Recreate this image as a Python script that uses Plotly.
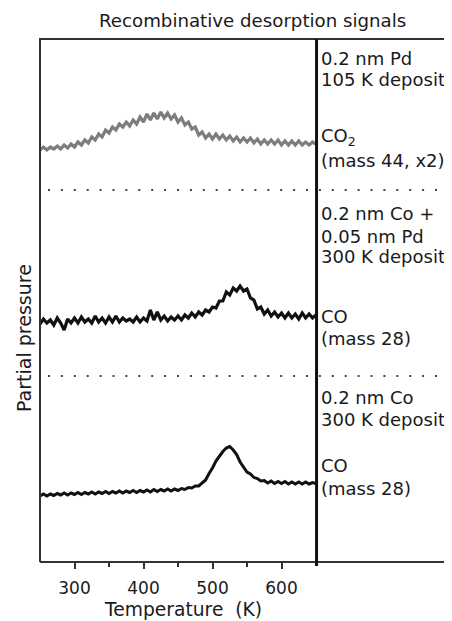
import plotly.graph_objects as go

# Temperature grid (K)
temperature = list(range(250, 655, 5))

# CO2 (mass 44, x2) - 0.2 nm Pd, 105 K deposit (arbitrary units, offset)
co2_mass44 = [
    41.2, 41.5, 41.2, 41.5, 41.3, 41.6, 41.3, 41.7, 41.4, 41.8,
    41.5, 42.0, 41.7, 42.2, 41.9, 42.5, 42.2, 42.8, 42.5, 43.2,
    42.9, 43.5, 43.2, 43.8, 43.5, 44.0, 43.6, 44.2, 43.8, 44.5,
    44.0, 44.8, 44.2, 44.9, 44.3, 45.0, 44.4, 44.9, 44.3, 44.7,
    44.0, 44.4, 43.7, 44.0, 43.3, 43.5, 42.7, 43.0, 42.4, 42.8,
    42.3, 42.8, 42.3, 42.7, 42.2, 42.6, 42.1, 42.5, 42.0, 42.4,
    42.0, 42.4, 41.9, 42.3, 41.8, 42.2, 41.8, 42.2, 41.8, 42.2,
    41.7, 42.1, 41.7, 42.1, 41.7, 42.1, 41.7, 42.0, 41.7, 42.0,
    41.8,
]

# CO (mass 28) - 0.2 nm Co + 0.05 nm Pd, 300 K deposit
co_copd = [
    23.8, 24.3, 23.9, 24.2, 23.7, 24.4, 23.9, 23.2, 24.3, 23.9,
    24.4, 23.9, 24.5, 24.0, 24.3, 23.9, 24.6, 24.0, 24.4, 23.9,
    24.5, 24.0, 24.6, 24.0, 24.4, 24.1, 24.3, 24.0, 24.5, 24.0,
    24.4, 24.1, 25.2, 24.2, 25.0, 24.2, 24.6, 24.1, 24.5, 24.2,
    24.6, 24.2, 24.7, 24.4, 24.9, 24.5, 25.0, 24.7, 25.2, 25.0,
    25.5, 25.4, 26.1, 26.1, 27.0, 26.7, 27.4, 27.1, 27.6, 27.1,
    27.3, 26.4, 26.2, 25.3, 25.5, 24.8, 25.2, 24.6, 25.0, 24.5,
    24.9, 24.4, 24.9, 24.4, 24.8, 24.3, 24.9, 24.4, 24.8, 24.4,
    24.7,
]

# CO (mass 28) - 0.2 nm Co, 300 K deposit
co_co = [
    6.6, 6.8, 6.6, 6.8, 6.65, 6.85, 6.7, 6.9, 6.7, 6.9,
    6.75, 6.95, 6.75, 6.95, 6.8, 7.0, 6.8, 7.0, 6.85, 7.05,
    6.85, 7.05, 6.9, 7.1, 6.9, 7.1, 6.95, 7.15, 6.95, 7.15,
    7.0, 7.2, 7.0, 7.25, 7.05, 7.25, 7.1, 7.3, 7.1, 7.3,
    7.15, 7.35, 7.25, 7.45, 7.4, 7.6, 7.6, 7.95, 8.2, 8.85,
    9.4, 10.1, 10.6, 11.05, 11.4, 11.55, 11.2, 10.75, 10.0, 9.45,
    9.0, 8.8, 8.45, 8.35, 8.1, 8.15, 7.9, 8.1, 7.85, 8.05,
    7.85, 8.05, 7.8, 8.0, 7.8, 8.0, 7.8, 8.0, 7.8, 7.95,
    7.85,
]

separators = [37.2, 18.6]

major_ticks = [300, 400, 500, 600]
minor_ticks = [350, 450, 550]

labels = [
    ("0.2 nm Pd", 58), ("105 K deposit", 80),
    ("CO<sub>2</sub>", 137), ("(mass 44, x2)", 160),
    ("0.2 nm Co +", 213), ("0.05 nm Pd", 236), ("300 K deposit", 257),
    ("CO", 317), ("(mass 28)", 338),
    ("0.2 nm Co", 397), ("300 K deposit", 419),
    ("CO", 465), ("(mass 28)", 488),
]

FONT = "DejaVu Sans"
OFF = 8  # page body margin
VW, VH = 452, 621
W, H = VW - OFF, VH - OFF
# plot area in viewport pixels: x 40..316, y 39..562
L, T = 40 - OFF, 39 - OFF
R = W - (316 - OFF)
B = H - (562 - OFF)
PW, PH = W - L - R, H - T - B


def px_x(x):
    return (x - 40) / PW


def px_y(y):
    return (562 - y) / PH


fig = go.Figure()
fig.add_trace(go.Scatter(x=temperature, y=co2_mass44, mode="lines",
                         line=dict(color="#7d7d7d", width=3.2), showlegend=False))
fig.add_trace(go.Scatter(x=temperature, y=co_copd, mode="lines",
                         line=dict(color="#111111", width=3.2), showlegend=False))
fig.add_trace(go.Scatter(x=temperature, y=co_co, mode="lines",
                         line=dict(color="#111111", width=3), showlegend=False))

shapes = []
xr = px_x(VW + 2)
# frame
shapes.append(dict(type="line", xref="paper", yref="paper", x0=px_x(39), x1=xr, y0=1, y1=1,
                   line=dict(color="#333", width=2)))
shapes.append(dict(type="line", xref="paper", yref="paper", x0=0, x1=xr, y0=0, y1=0,
                   line=dict(color="#333", width=2)))
shapes.append(dict(type="line", xref="paper", yref="paper", x0=0, x1=0, y0=0, y1=1,
                   line=dict(color="#333", width=2)))
shapes.append(dict(type="line", xref="paper", yref="paper", x0=1.002, x1=1.002, y0=px_y(566), y1=1,
                   line=dict(color="#111", width=3)))
for s in separators:
    shapes.append(dict(type="line", xref="paper", yref="y", x0=px_x(48), x1=xr, y0=s, y1=s,
                       line=dict(color="#444", width=2, dash="2px,10.9px")))

ann = []
for text, y in labels:
    ann.append(dict(text=text, x=px_x(319), y=px_y(y), xref="paper", yref="paper",
                    xanchor="left", yanchor="middle", showarrow=False,
                    font=dict(family=FONT, size=18, color="#1a1a1a")))
ann.append(dict(text="Recombinative desorption signals", x=px_x(252), y=px_y(20),
                xref="paper", yref="paper", xanchor="center", yanchor="middle",
                showarrow=False, font=dict(family=FONT, size=18.2, color="#1a1a1a")))
ann.append(dict(text="Temperature \u00a0(K)", x=px_x(182.5), y=px_y(609),
                xref="paper", yref="paper", xanchor="center", yanchor="middle",
                showarrow=False, font=dict(family=FONT, size=18.7, color="#1a1a1a")))
ann.append(dict(text="Partial pressure", x=px_x(24), y=px_y(338),
                xref="paper", yref="paper", xanchor="center", yanchor="middle",
                textangle=-90, showarrow=False,
                font=dict(family=FONT, size=19, color="#1a1a1a")))

fig.update_layout(
    width=W, height=H,
    margin=dict(l=L, r=R, t=T, b=B),
    paper_bgcolor="white", plot_bgcolor="white",
    shapes=shapes, annotations=ann,
    xaxis=dict(range=[250, 650], showgrid=False, zeroline=False, showline=False,
               tickmode="array", tickvals=major_ticks,
               ticks="outside", ticklen=6, tickwidth=1.5, tickcolor="#333",
               ticklabelstandoff=5,
               tickfont=dict(family=FONT, size=17, color="#1a1a1a"),
               minor=dict(tickmode="array", tickvals=minor_ticks, ticks="outside",
                          ticklen=4, tickwidth=1.5, tickcolor="#333")),
    yaxis=dict(range=[0, 52.3], showgrid=False, zeroline=False, showline=False,
               showticklabels=False, ticks=""),
)

fig.write_html("out.html")
